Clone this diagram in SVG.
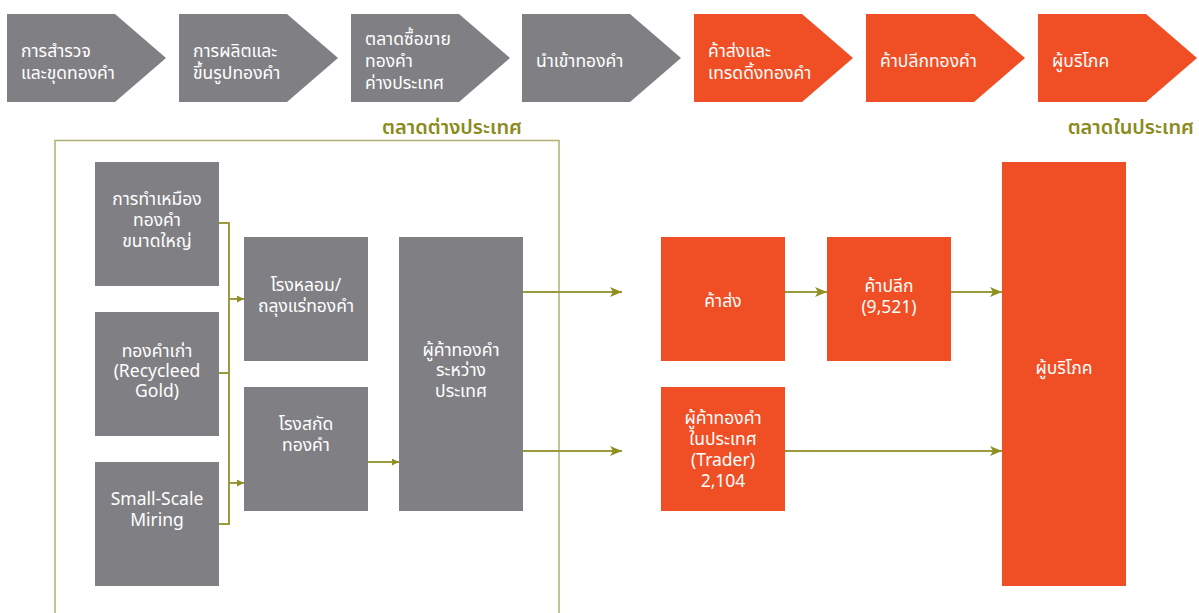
<svg xmlns="http://www.w3.org/2000/svg" width="1199" height="613" viewBox="0 0 1199 613">
<style>
.g{fill:#808084}
.o{fill:#f04e24}
text{font-family:"Noto Sans Thai","Noto Sans","Liberation Sans",sans-serif;font-size:17.5px;fill:#ffffff}
.c{text-anchor:middle}
.lbl{fill:#8b8b1c;font-size:20px;font-weight:600;text-anchor:end}
.ln{fill:none;stroke:#9b9b3d;stroke-width:2}
.fr{fill:none;stroke:#b0b070;stroke-width:1.5}
</style>
<defs>
<marker id="a" markerUnits="userSpaceOnUse" markerWidth="12" markerHeight="10" refX="12" refY="5" orient="auto"><path d="M0,0 L12,5 L0,10 L3,5 Z" fill="#8f8f22"/></marker>
<marker id="s" markerUnits="userSpaceOnUse" markerWidth="7" markerHeight="7" refX="7" refY="3.5" orient="auto"><path d="M0,0 L7,3.5 L0,7 Z" fill="#8f8f22"/></marker>
</defs>
<g id="chevrons">
<g id="c1"><polygon class="g" points="7,14 115,14 166,58 115,102 7,102"/><text x="21" y="57">การสำรวจ</text><text x="21" y="79">และขุดทองคำ</text></g>
<g id="c2"><polygon class="g" points="179,14 287,14 338,58 287,102 179,102"/><text x="193" y="57">การผลิตและ</text><text x="193" y="79">ขึ้นรูปทองคำ</text></g>
<g id="c3"><polygon class="g" points="351,14 459,14 510,58 459,102 351,102"/><text x="365" y="45">ตลาดซื้อขาย</text><text x="365" y="67">ทองคำ</text><text x="365" y="89">ค่างประเทศ</text></g>
<g id="c4"><polygon class="g" points="522,14 630,14 681,58 630,102 522,102"/><text x="536" y="67">นำเข้าทองคำ</text></g>
<g id="c5"><polygon class="o" points="694,14 802,14 853,58 802,102 694,102"/><text x="708" y="57">ค้าส่งและ</text><text x="708" y="79">เทรดดิ้งทองคำ</text></g>
<g id="c6"><polygon class="o" points="866,14 974,14 1025,58 974,102 866,102"/><text x="880" y="67">ค้าปลีกทองคำ</text></g>
<g id="c7"><polygon class="o" points="1038,14 1146,14 1197,58 1146,102 1038,102"/><text x="1052" y="67">ผู้บริโภค</text></g>
</g>
<g id="labels">
<text class="lbl" x="522" y="134">ตลาดต่างประเทศ</text>
<text class="lbl" x="1194" y="134">ตลาดในประเทศ</text>
</g>
<g id="frame"><path class="fr" d="M55,613 V140.5 H559 V613"/></g>
<g id="connectors">
<path class="ln" d="M219,223 H229 V524 H219"/>
<path class="ln" d="M219,373 H229"/>
<path class="ln" d="M229,299 H244" marker-end="url(#s)"/>
<path class="ln" d="M229,483 H244" marker-end="url(#s)"/>
<path class="ln" d="M368,462 H399" marker-end="url(#s)"/>
<path class="ln" d="M523,292 H622" marker-end="url(#a)"/>
<path class="ln" d="M523,451 H622" marker-end="url(#a)"/>
<path class="ln" d="M785,292 H827" marker-end="url(#a)"/>
<path class="ln" d="M951,292 H1002" marker-end="url(#a)"/>
<path class="ln" d="M785,451 H1002" marker-end="url(#a)"/>
</g>
<g id="n-mining"><rect class="g" x="95" y="162" width="124" height="124"/><text class="c" x="157" y="205">การทำเหมือง</text><text class="c" x="157" y="226">ทองคำ</text><text class="c" x="157" y="247">ขนาดใหญ่</text></g>
<g id="n-recycled"><rect class="g" x="95" y="312" width="124" height="124"/><text class="c" x="157" y="357">ทองคำเก่า</text><text class="c" x="157" y="377">(Recycleed</text><text class="c" x="157" y="397">Gold)</text></g>
<g id="n-small"><rect class="g" x="95" y="462" width="124" height="124"/><text class="c" x="157" y="505">Small-Scale</text><text class="c" x="157" y="526">Miring</text></g>
<g id="n-smelter"><rect class="g" x="244" y="237" width="124" height="124"/><text class="c" x="306" y="291">โรงหลอม/</text><text class="c" x="306" y="312">ถลุงแร่ทองคำ</text></g>
<g id="n-refinery"><rect class="g" x="244" y="387" width="124" height="124"/><text class="c" x="306" y="430">โรงสกัด</text><text class="c" x="306" y="451">ทองคำ</text></g>
<g id="n-intl"><rect class="g" x="399" y="237" width="124" height="274"/><text class="c" x="461" y="356">ผู้ค้าทองคำ</text><text class="c" x="461" y="376">ระหว่าง</text><text class="c" x="461" y="397">ประเทศ</text></g>
<g id="n-wholesale"><rect class="o" x="661" y="237" width="124" height="124"/><text class="c" x="723" y="307">ค้าส่ง</text></g>
<g id="n-retail"><rect class="o" x="827" y="237" width="124" height="124"/><text class="c" x="889" y="292">ค้าปลีก</text><text class="c" x="889" y="313">(9,521)</text></g>
<g id="n-trader"><rect class="o" x="661" y="387" width="124" height="124"/><text class="c" x="723" y="424">ผู้ค้าทองคำ</text><text class="c" x="723" y="445">ในประเทศ</text><text class="c" x="723" y="466">(Trader)</text><text class="c" x="723" y="487">2,104</text></g>
<g id="n-consumer"><rect class="o" x="1002" y="162" width="124" height="424"/><text class="c" x="1064" y="374">ผู้บริโภค</text></g>
</svg>
